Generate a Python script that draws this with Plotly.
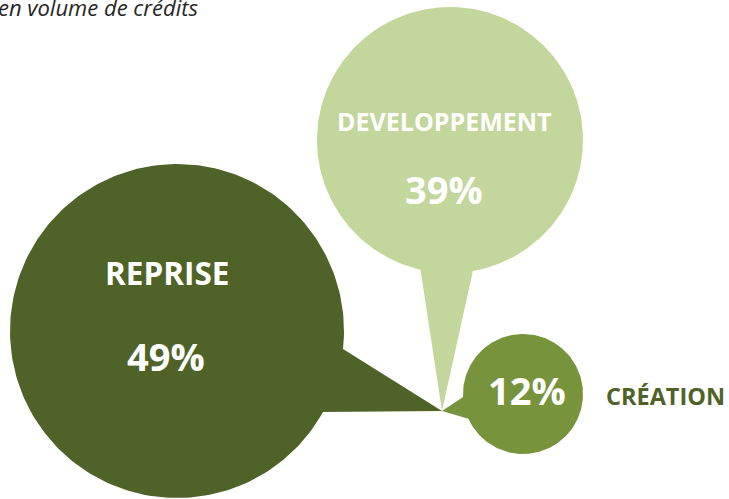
import numpy as np
import plotly.graph_objects as go

# ---- data ----
categories = ["REPRISE", "DEVELOPPEMENT", "CRÉATION"]
shares = [49, 39, 12]
subtitle = "en volume de crédits"

# ---- styling / geometry (pixel space of the 729x499 canvas) ----
colors = ["#4F6228", "#C3D69B", "#77933C"]
centers = [(177, 331), (450, 140), (523, 394)]
radii = [167, 133, 60]
tail_angles = [(29.0, 366.2), (102.8, 440.1), (177.2, 515.6)]  # arc start/end, degrees
tip = (442, 411)
name_pos = [(167, 272), (444, 121), (665, 396)]
pct_pos = [(166, 356), (444, 189), (527, 390)]
name_colors = ["white", "white", "#4F6228"]
name_sizes = [31.5, 25, 23.5]
pct_size = 38

W, H = 729, 499

fig = go.Figure()
for i, cat in enumerate(categories):
    cx, cy = centers[i]
    r = radii[i]
    a0, a1 = tail_angles[i]
    t = np.radians(np.linspace(a0, a1, 240))
    xs = [tip[0]] + list(cx + r * np.cos(t)) + [tip[0]]
    ys = [tip[1]] + list(cy + r * np.sin(t)) + [tip[1]]
    fig.add_trace(go.Scatter(
        x=xs, y=ys, mode="lines", fill="toself",
        fillcolor=colors[i], line=dict(width=0, color=colors[i]),
        hoverinfo="skip", showlegend=False, name=cat,
    ))

for i, cat in enumerate(categories):
    fig.add_annotation(
        x=name_pos[i][0], y=name_pos[i][1], text=f"<b>{cat}</b>",
        showarrow=False, xanchor="center", yanchor="middle",
        font=dict(family="Open Sans", size=name_sizes[i], color=name_colors[i]),
    )
    fig.add_annotation(
        x=pct_pos[i][0], y=pct_pos[i][1], text=f"<b>{shares[i]}%</b>",
        showarrow=False, xanchor="center", yanchor="middle",
        font=dict(family="Open Sans", size=pct_size, color="white"),
    )

fig.add_annotation(
    xref="paper", yref="paper", x=0, y=1, xshift=-4, yshift=10,
    text=f"<i>{subtitle}</i>", showarrow=False,
    xanchor="left", yanchor="top",
    font=dict(family="Open Sans", size=22, color="#262626"),
)

fig.update_xaxes(range=[0, W], visible=False, fixedrange=True)
fig.update_yaxes(range=[H, 0], visible=False, fixedrange=True)
fig.update_layout(
    width=W, height=H, margin=dict(l=0, r=0, t=0, b=0),
    plot_bgcolor="white", paper_bgcolor="white", showlegend=False,
)
fig.write_html(
    "out.html",
    config={"displayModeBar": False},
    post_script="document.body.style.margin='0px';document.body.style.overflow='hidden';",
)
